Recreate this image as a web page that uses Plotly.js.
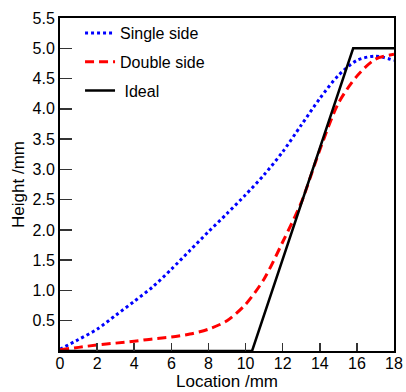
<!DOCTYPE html>
<html>
<head>
<meta charset="utf-8">
<script src="https://cdn.plot.ly/plotly-3.0.1.min.js"></script>
<style>html,body{margin:0;padding:0;background:#fff;}#chart{width:406px;height:392px;}</style>
</head>
<body>
<div id="chart"></div>
<script>
var singleX = [0, 1, 2, 3, 4, 5, 6, 7, 8, 9, 10, 11, 12, 13, 14, 15, 16, 17, 18];
var singleY = [0.03, 0.19, 0.36, 0.59, 0.82, 1.06, 1.35, 1.66, 1.97, 2.27, 2.58, 2.91, 3.29, 3.73, 4.17, 4.55, 4.80, 4.87, 4.80];
var doubleX = [0, 1, 2, 3, 4, 5, 6, 7, 8, 9, 10, 11, 12, 13, 14, 15, 16, 17, 18];
var doubleY = [0.02, 0.06, 0.10, 0.13, 0.16, 0.20, 0.23, 0.28, 0.36, 0.50, 0.77, 1.19, 1.80, 2.45, 3.32, 4.09, 4.54, 4.82, 4.90];
var idealX = [0, 10.35, 15.8, 18];
var idealY = [0, 0, 5.0, 5.0];
var names = ['Single side', 'Double side', ' Ideal'];
var xTicks = [0, 2, 4, 6, 8, 10, 12, 14, 16, 18];
var yTicks = [0.5, 1.0, 1.5, 2.0, 2.5, 3.0, 3.5, 4.0, 4.5, 5.0, 5.5];

var font = 'Liberation Sans, Arial, sans-serif';
var traces = [
  {x: singleX, y: singleY, name: names[0], mode: 'lines', legendgroup: 'a',
   line: {color: '#0000ff', width: 3, dash: 'dot', shape: 'spline', smoothing: 0.8}},
  {x: doubleX, y: doubleY, name: names[1], mode: 'lines', legendgroup: 'b',
   line: {color: '#ff0000', width: 3, dash: '9px,5px', shape: 'spline', smoothing: 0.8}},
  {x: idealX, y: idealY, name: names[2], mode: 'lines', legendgroup: 'c',
   line: {color: '#000000', width: 2.5}}
];
var layout = {
  width: 406, height: 392,
  margin: {l: 60, r: 12, t: 18, b: 41, pad: 0},
  paper_bgcolor: '#fff', plot_bgcolor: '#fff',
  font: {family: font, size: 16, color: '#000'},
  showlegend: true,
  legend: {x: 0.06, y: 1.006, xanchor: 'left', yanchor: 'top', bgcolor: 'rgba(0,0,0,0)',
           font: {family: font, size: 16, color: '#000'}, traceorder: 'grouped', tracegroupgap: 5},
  xaxis: {range: [0, 18], tickvals: xTicks, ticktext: xTicks.map(String), ticks: 'inside', ticklen: 8,
          tickwidth: 1.5, tickcolor: '#333', showline: true, linecolor: '#000', linewidth: 2, mirror: true,
          showgrid: false, zeroline: false, tickfont: {size: 16}, ticklabelstandoff: -3,
          title: {text: 'Location /mm', font: {size: 17}, standoff: 2}},
  yaxis: {range: [0, 5.5], tickvals: yTicks, ticktext: yTicks.map(function(v){return v.toFixed(1);}), ticks: 'inside', ticklen: 12,
          tickwidth: 1.5, tickcolor: '#333', showline: true, linecolor: '#000', linewidth: 2, mirror: true,
          showgrid: false, zeroline: false, tickfont: {size: 16},
          title: {text: 'Height /mm', font: {size: 17}, standoff: 4}}
};
Plotly.newPlot('chart', traces, layout, {staticPlot: true, displayModeBar: false});
</script>
</body>
</html>
